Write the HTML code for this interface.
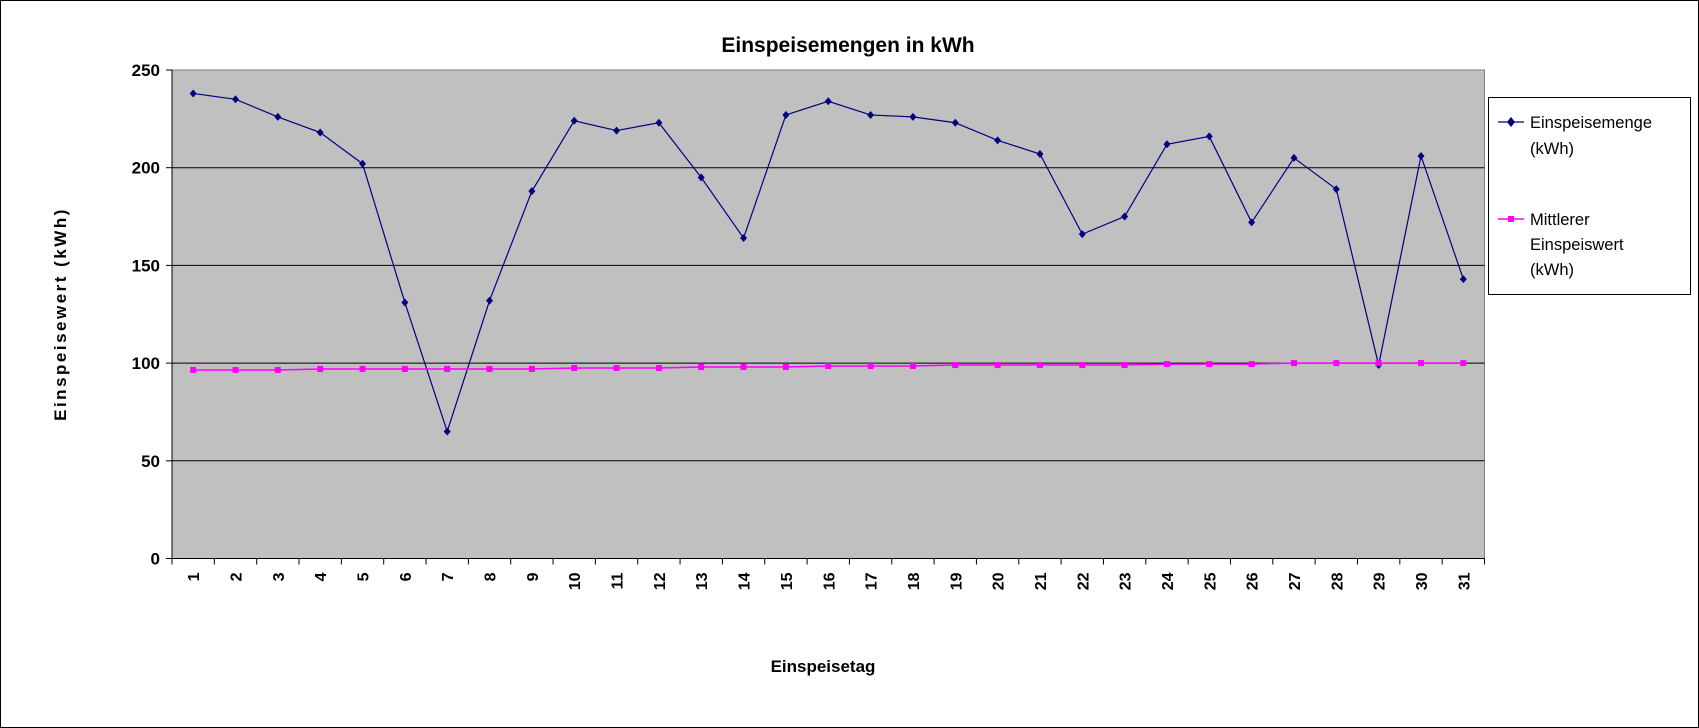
<!DOCTYPE html>
<html><head><meta charset="utf-8"><style>
html,body{margin:0;padding:0;background:#fff}
svg{display:block;font-family:"Liberation Sans",Arial,sans-serif}
</style></head><body>
<svg id="chart" width="1699" height="728" viewBox="0 0 1699 728">
<rect x="0.5" y="0.5" width="1698" height="727" fill="#fff" stroke="#000"/>
<text x="848" y="52" text-anchor="middle" font-size="21" font-weight="bold">Einspeisemengen in kWh</text>
<rect x="172" y="70" width="1312.5" height="488.5" fill="#c0c0c0" stroke="#808080"/>
<g id="grid"></g>
<g id="axes"></g>
<g id="series"></g>
<text x="823" y="672" text-anchor="middle" font-size="17" font-weight="bold">Einspeisetag</text>
<text transform="translate(66,314) rotate(-90)" text-anchor="middle" font-size="17" font-weight="bold" letter-spacing="2.5">Einspeisewert (kWh)</text>
<g>
<rect x="1488.5" y="97.5" width="202" height="197" fill="#fff" stroke="#000"/>
<g>
<line x1="1498" y1="122" x2="1524" y2="122" stroke="#000080" stroke-width="1.2"/>
<path d="M1511 117 L1515 122 L1511 127 L1507 122 Z" fill="#000080"/>
<text x="1530" y="128" font-size="16.5">Einspeisemenge</text>
<text x="1530" y="154" font-size="16.5">(kWh)</text>
</g>
<g>
<line x1="1498" y1="219" x2="1524" y2="219" stroke="#ff00ff" stroke-width="1.5"/>
<rect x="1508" y="216" width="6" height="6" fill="#ff00ff"/>
<text x="1530" y="225" font-size="16.5">Mittlerer</text>
<text x="1530" y="250" font-size="16.5">Einspeiswert</text>
<text x="1530" y="275" font-size="16.5">(kWh)</text>
</g>
</g>
</svg>
<script>
const categories=[1,2,3,4,5,6,7,8,9,10,11,12,13,14,15,16,17,18,19,20,21,22,23,24,25,26,27,28,29,30,31];
const einspeisemenge=[238,235,226,218,202,131,65,132,188,224,219,223,195,164,227,234,227,226,223,214,207,166,175,212,216,172,205,189,99,206,143];
const mittlerer=[96.5,96.5,96.5,97,97,97,97,97,97,97.5,97.5,97.5,98,98,98,98.5,98.5,98.5,99,99,99,99,99,99.5,99.5,99.5,100,100,100,100,100];
const yTicks=[0,50,100,150,200,250];
const NS='http://www.w3.org/2000/svg';
const L=172,R=1484.5,T=70,B=558.5,yMax=250;
const band=(R-L)/categories.length;
function x(i){return L+band*(i+0.5);}
function y(v){return B-(v/yMax)*(B-T);}
function mk(tag,attrs,parent){const e=document.createElementNS(NS,tag);for(const k in attrs)e.setAttribute(k,attrs[k]);parent.appendChild(e);return e;}
const grid=document.getElementById('grid'),axes=document.getElementById('axes'),series=document.getElementById('series');
yTicks.forEach(t=>{
  if(t>0&&t<yMax){const g=mk('line',{x1:L,x2:R,y1:y(t),y2:y(t),stroke:'#000','stroke-width':1},grid);
  
  }
  const tk=mk('line',{x1:L-6,x2:L,y1:y(t),y2:y(t),stroke:'#000'},axes);
  
  
  const lb=mk('text',{x:L-12,y:y(t)+6,'text-anchor':'end','font-size':17,'font-weight':'bold'},axes);
  lb.textContent=t;
  
  
});
const ya=mk('line',{x1:L,x2:L,y1:T,y2:B,stroke:'#000'},axes);


const xa=mk('line',{x1:L,x2:R,y1:B,y2:B,stroke:'#000'},axes);


for(let i=0;i<=categories.length;i++){
  const tk=mk('line',{x1:L+band*i,x2:L+band*i,y1:B,y2:B+6,stroke:'#000'},axes);
  
  
}
categories.forEach((c,i)=>{
  const lb=mk('text',{transform:`translate(${x(i)+6},${B+14}) rotate(-90)`,'text-anchor':'end','font-size':16,'font-weight':'bold'},axes);
  lb.textContent=c;
  
  
});
const p1=mk('polyline',{points:einspeisemenge.map((v,i)=>x(i)+','+y(v)).join(' '),fill:'none',stroke:'#000080','stroke-width':1.2},series);


einspeisemenge.forEach((v,i)=>{
  const cx=x(i),cy=y(v);
  const m=mk('path',{d:`M${cx} ${cy-4} L${cx+3.5} ${cy} L${cx} ${cy+4} L${cx-3.5} ${cy} Z`,fill:'#000080'},series);
  
  
});
const p2=mk('polyline',{points:mittlerer.map((v,i)=>x(i)+','+y(v)).join(' '),fill:'none',stroke:'#ff00ff','stroke-width':1.5},series);


mittlerer.forEach((v,i)=>{
  const m=mk('rect',{x:x(i)-3,y:y(v)-3,width:6,height:6,fill:'#ff00ff'},series);
  
  
});
</script>
</body></html>
